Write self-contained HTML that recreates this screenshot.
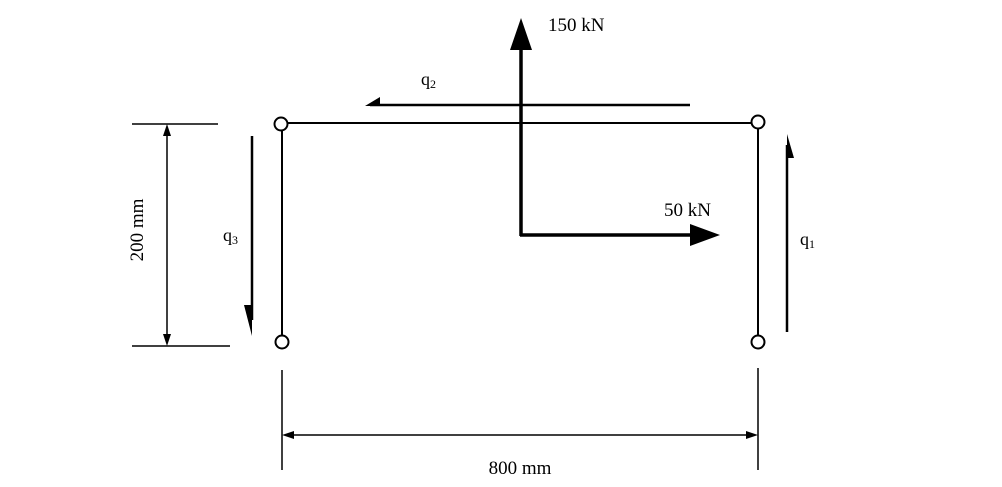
<!DOCTYPE html>
<html><head><style>html,body{margin:0;padding:0;background:#fff}svg{display:block}text{font-family:"Liberation Serif",serif;fill:#000}</style></head>
<body>
<svg width="1002" height="487" viewBox="0 0 1002 487" xmlns="http://www.w3.org/2000/svg">
<g stroke="#000" fill="none">
<line x1="287" y1="123" x2="752" y2="123" stroke-width="2"/>
<line x1="282" y1="130" x2="282" y2="336" stroke-width="2"/>
<line x1="758" y1="128" x2="758" y2="336" stroke-width="2"/>
<circle cx="281" cy="124" r="6.5" stroke-width="2"/>
<circle cx="758" cy="122" r="6.5" stroke-width="2"/>
<circle cx="282" cy="342" r="6.5" stroke-width="2"/>
<circle cx="758" cy="342" r="6.5" stroke-width="2"/>
<line x1="690" y1="105" x2="370" y2="105" stroke-width="2.5"/>
<line x1="521" y1="236" x2="521" y2="48" stroke-width="3.5"/>
<line x1="520" y1="235" x2="695" y2="235" stroke-width="3.5"/>
<line x1="252" y1="136" x2="252" y2="320" stroke-width="2.5"/>
<line x1="787" y1="145" x2="787" y2="332" stroke-width="2.5"/>
<line x1="132" y1="124" x2="218" y2="124" stroke-width="1.5"/>
<line x1="132" y1="346" x2="230" y2="346" stroke-width="1.5"/>
<line x1="167" y1="132" x2="167" y2="338" stroke-width="1.5"/>
<line x1="282" y1="370" x2="282" y2="470" stroke-width="1.5"/>
<line x1="758" y1="368" x2="758" y2="470" stroke-width="1.5"/>
<line x1="290" y1="435" x2="750" y2="435" stroke-width="1.5"/>
</g>
<g fill="#000">
<polygon points="365,106 380,97 380,106"/>
<polygon points="521,18 510,50 532,50"/>
<polygon points="720,235 690,224 690,246"/>
<polygon points="252,336 244,305 252,305"/>
<polygon points="787,134 794,158 787,158"/>
<polygon points="167,124 163,136 171,136"/>
<polygon points="167,346 163,334 171,334"/>
<polygon points="282,435 294,431 294,439"/>
<polygon points="758,435 746,431 746,439"/>
</g>
<text x="548" y="31" font-size="19">150 kN</text>
<text x="664" y="216" font-size="19">50 kN</text>
<text x="421" y="85" font-size="18">q<tspan font-size="12" dy="3">2</tspan></text>
<text x="223" y="241" font-size="18">q<tspan font-size="12" dy="3">3</tspan></text>
<text x="800" y="245" font-size="18">q<tspan font-size="12" dy="3">1</tspan></text>
<text x="520" y="474" font-size="19" text-anchor="middle">800 mm</text>
<text transform="translate(143,230) rotate(-90)" font-size="19" text-anchor="middle">200 mm</text>
</svg>
</body></html>
